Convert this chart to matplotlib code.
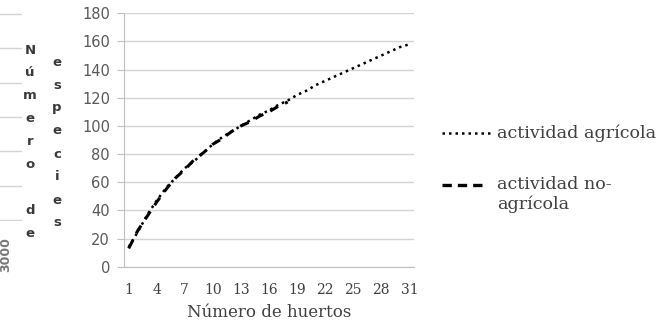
import numpy as np
import matplotlib.pyplot as plt
from matplotlib.lines import Line2D

# número de huertos (eje de categorías)
huertos = list(range(1, 32))
# curvas de acumulación de especies
agricola = [14, 25, 37, 47, 56, 63, 70, 75, 81, 87, 92, 96, 100, 104, 108, 111,
            115, 118, 122, 125, 129, 132, 135, 138, 141, 144, 147, 150, 153, 156, 158]
huertos_no = list(range(1, 19))
no_agricola = [13, 26, 36, 46, 55, 63, 69, 76, 81, 87, 91, 96, 100, 103, 107, 110, 114, 117]

y_ticks = list(range(0, 181, 20))
x_ticks = list(range(1, 32, 3))

W, H = 666, 324
fig = plt.figure(figsize=(W / 100, H / 100), dpi=100)

def px(x0, y0, x1, y1):
    return [x0 / W, 1 - y1 / H, (x1 - x0) / W, (y1 - y0) / H]

def fx(x):
    return x / W

def fy(y):
    return 1 - y / H

grid_c = '#d4d4d4'
txt_c = '#595959'
serif = ['DejaVu Serif']
sans = ['DejaVu Sans']

# restos del gráfico vecino a la izquierda
axl = fig.add_axes(px(0, 13, 22, 221))
for k in range(7):
    axl.axhline(k, color=grid_c, lw=1)
axl.set_ylim(-0.02, 6.02)
axl.set_xlim(0, 1)
axl.axis('off')
fig.text(fx(6), fy(255), '3000', rotation=90, ha='center', va='center',
         fontsize=9, color='#777777', family=sans, fontweight='bold')

col1 = ['N', 'ú', 'm', 'e', 'r', 'o', '', 'd', 'e']
col2 = ['e', 's', 'p', 'e', 'c', 'i', 'e', 's']
for i, ch in enumerate(col1):
    fig.text(fx(30), fy(50 + i * 22.9), ch, ha='center', va='center',
             fontsize=9.5, color='#3a3a3a', family=sans, fontweight='bold')
for i, ch in enumerate(col2):
    fig.text(fx(57), fy(62 + i * 23), ch, ha='center', va='center',
             fontsize=9.5, color='#3a3a3a', family=sans, fontweight='bold')

# gráfico principal
ax = fig.add_axes(px(124, 13.3, 414, 266.7))
dot_style = dict(color='black', lw=1.8, linestyle=(0, (1, 1.6)), dash_capstyle='butt')
dash_style = dict(color='black', lw=2.2, linestyle=(0, (3, 2.5)), dash_capstyle='butt')
ax.plot(huertos, agricola, **dot_style)
ax.plot(huertos_no, no_agricola, **dash_style)

ax.set_xlim(0.5, 31.5)
ax.set_ylim(0, 180)
ax.set_yticks(y_ticks)
ax.set_xticks(x_ticks)
ax.yaxis.grid(True, color=grid_c, lw=1)
ax.set_axisbelow(True)
for s in ['top', 'right']:
    ax.spines[s].set_visible(False)
ax.spines['left'].set_color('#bfbfbf')
ax.spines['bottom'].set_color('#bfbfbf')
ax.tick_params(axis='y', length=5, color='#bfbfbf', labelsize=10.5,
               labelcolor=txt_c, pad=5)
ax.tick_params(axis='x', length=0, labelsize=10, labelcolor='#404040', pad=12)
for t in ax.get_yticklabels():
    t.set_family(sans)
for t in ax.get_xticklabels():
    t.set_family(serif)
ax.set_xlabel('Número de huertos', fontsize=12, family=serif, color='#404040',
              labelpad=5)

# leyenda: la muestra queda a la altura de la primera línea del texto
leg_rows = [(133, dot_style, 'actividad agrícola', 50),
            (185, dict(dash_style, lw=2.4, linestyle=(0, (2.8, 1.8))), 'actividad no-\nagrícola', 46)]
for y, st, lab, ln in leg_rows:
    fig.add_artist(Line2D([fx(442), fx(442 + ln)], [fy(y), fy(y)], **st))
    fig.text(fx(497), fy(y), lab, ha='left', va='top' if '\n' in lab else 'center',
             fontsize=12.6, family=serif, color='#404040', linespacing=1.2,
             transform=fig.transFigure)
fig.texts[-1].set_y(fy(185 - 9))

fig.savefig('out.png', dpi=100)
